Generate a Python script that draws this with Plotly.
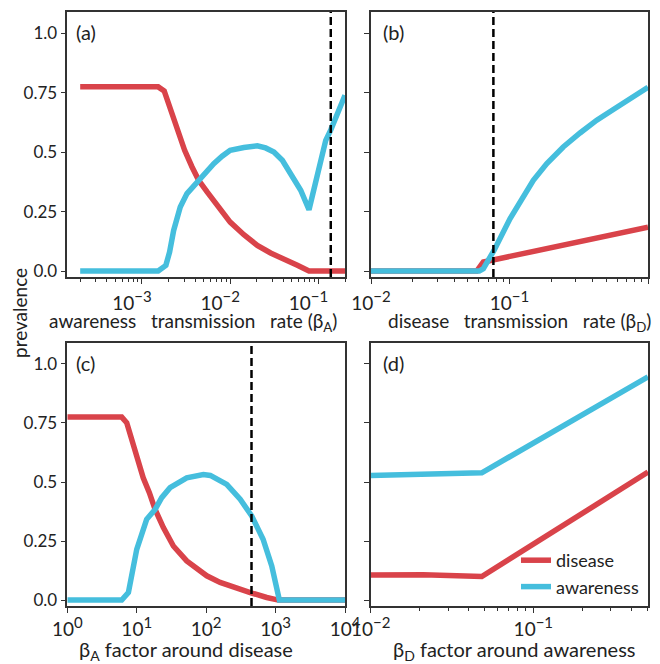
import plotly.graph_objects as go

# ---------------- data ----------------
# (a) awareness transmission rate beta_A
a_dis_x = [2e-4, 1.53e-3, 1.79e-3, 2.0e-3, 2.29e-3, 2.61e-3, 3.05e-3, 3.70e-3, 4.40e-3, 5.48e-3,
           6.52e-3, 1e-2, 1.43e-2, 2.03e-2, 2.87e-2, 4.07e-2, 5.77e-2, 7.82e-2, 0.2]
a_dis_y = [0.775, 0.775, 0.758, 0.705, 0.649, 0.579, 0.508, 0.438, 0.382, 0.333,
           0.298, 0.206, 0.153, 0.108, 0.076, 0.052, 0.024, 0.0, 0.0]
a_awa_x = [2e-4, 1.53e-3, 1.87e-3, 2.06e-3, 2.29e-3, 2.72e-3, 3.24e-3, 4.40e-3, 5.48e-3, 6.52e-3,
           8.11e-3, 1e-2, 1.43e-2, 2.03e-2, 2.52e-2, 3.13e-2, 3.90e-2, 4.84e-2, 6.30e-2, 7.82e-2,
           9.33e-2, 0.1064, 0.121, 0.138, 0.1675, 0.2]
a_awa_y = [0.0, 0.0, 0.024, 0.080, 0.171, 0.270, 0.326, 0.382, 0.424, 0.452,
           0.483, 0.508, 0.520, 0.527, 0.518, 0.501, 0.466, 0.41, 0.340, 0.258,
           0.382, 0.466, 0.55, 0.594, 0.666, 0.74]
a_crit = 0.138

# (b) disease transmission rate beta_D
b_dis_x = [0.01, 0.058, 0.0647, 0.2443, 1.0]
b_dis_y = [0.0, 0.0, 0.038, 0.109, 0.185]
b_awa_x = [0.01, 0.0605, 0.0647, 0.0703, 0.0773, 0.101, 0.1486, 0.186, 0.2443, 0.323,
           0.4266, 0.562, 0.741, 1.0]
b_awa_y = [0.0, 0.0, 0.010, 0.045, 0.087, 0.221, 0.382, 0.452, 0.522, 0.581,
           0.635, 0.680, 0.726, 0.773]
b_crit = 0.0765

# (c) beta_A factor around disease
c_dis_x = [1, 6.08, 7.18, 8.47, 10, 12.4, 15.2, 18.4, 24.2, 33.7, 52.5, 102, 159, 247, 454,
           746, 1096, 10000]
c_dis_y = [0.775, 0.775, 0.751, 0.680, 0.596, 0.518, 0.455, 0.384, 0.307, 0.229, 0.166,
           0.103, 0.075, 0.054, 0.030, 0.011, 0.0, 0.0]
c_awa_x = [1, 6.08, 7.59, 10, 13.9, 18.4, 22.9, 30.2, 52.5, 91.2, 114.8, 198, 309, 454, 661,
           881, 1135, 10000]
c_awa_y = [0.0, 0.0, 0.032, 0.215, 0.342, 0.384, 0.434, 0.476, 0.518, 0.532, 0.528, 0.49,
           0.427, 0.356, 0.258, 0.145, 0.0, 0.0]
c_crit = 450

# (d) beta_D factor around awareness
d_dis_x = [0.01, 0.021, 0.0482, 0.507]
d_dis_y = [0.106, 0.107, 0.100, 0.542]
d_awa_x = [0.01, 0.0482, 0.507]
d_awa_y = [0.528, 0.539, 0.945]

y_ticks = [0.0, 0.25, 0.5, 0.75, 1.0]
y_ticktext = ["0.0", "0.25", "0.5", "0.75", "1.0"]

RED = "#d9434a"
BLUE = "#45bedd"
FONT = "Lato"
TXT = "#222"
W, H = 660, 664
Y_RANGE = [-0.025, 1.09]

fig = go.Figure()

panels = [
    ("x", "y", a_dis_x, a_dis_y, a_awa_x, a_awa_y, a_crit),
    ("x2", "y2", b_dis_x, b_dis_y, b_awa_x, b_awa_y, b_crit),
    ("x3", "y3", c_dis_x, c_dis_y, c_awa_x, c_awa_y, c_crit),
    ("x4", "y4", d_dis_x, d_dis_y, d_awa_x, d_awa_y, None),
]
for xa, ya, dx, dy, ax_, ay_, crit in panels:
    show = xa == "x4"
    fig.add_trace(go.Scatter(x=dx, y=dy, xaxis=xa, yaxis=ya, mode="lines",
                             line=dict(color=RED, width=5.5), name="disease", showlegend=show))
    fig.add_trace(go.Scatter(x=ax_, y=ay_, xaxis=xa, yaxis=ya, mode="lines",
                             line=dict(color=BLUE, width=5.5), name="awareness", showlegend=show))
    if crit is not None:
        fig.add_trace(go.Scatter(x=[crit, crit], y=Y_RANGE, xaxis=xa, yaxis=ya, mode="lines",
                                 line=dict(color="black", width=2.5, dash="8px,4px"),
                                 showlegend=False, hoverinfo="skip"))


def px_x(a, b):
    return [a / W, b / W]


def px_y(top, bottom):
    return [1 - bottom / H, 1 - top / H]


def minor_vals(d0, d1):
    return [m * 10 ** d for d in range(d0, d1) for m in range(2, 10)]


def major(d0, d1):
    vals = [10 ** d for d in range(d0, d1 + 1)]
    text = ["10<sup><span style='font-size:15px'>%s</span></sup>" % (str(d).replace("-", "\u2212"))
            for d in range(d0, d1 + 1)]
    return vals, text


axis_common = dict(showline=True, mirror=True, linecolor="#333", linewidth=1.5,
                   ticks="outside", tickcolor="#333", tickwidth=1.2, ticklen=5,
                   showgrid=False, zeroline=False, automargin=False,
                   tickfont=dict(family=FONT, size=17, color=TXT))
xfont = dict(family=FONT, size=19, color=TXT)
minor_common = dict(ticks="outside", ticklen=3, tickcolor="#333", tickwidth=1)

xa_vals, xa_text = major(-3, -1)
xb_vals, xb_text = major(-2, 0)
xc_vals, xc_text = major(0, 4)
xd_vals, xd_text = major(-2, -1)

fig.update_layout(
    xaxis=dict(axis_common, type="log", range=[-3.845, -0.699], domain=px_x(67.3, 345),
               anchor="y", tickvals=xa_vals, ticktext=xa_text, ticklabelshift=-10,
               tickfont=xfont, ticklabelstandoff=3,
               minor=dict(minor_common, tickvals=minor_vals(-4, 0))),
    xaxis2=dict(axis_common, type="log", range=[-2, 0], domain=px_x(371, 648),
                anchor="y2", tickvals=xb_vals, ticktext=xb_text, tickfont=xfont,
                ticklabelstandoff=3,
                minor=dict(minor_common, tickvals=minor_vals(-2, 0))),
    xaxis3=dict(axis_common, type="log", range=[0, 4], domain=px_x(67.3, 345),
                anchor="y3", tickvals=xc_vals, ticktext=xc_text, tickfont=xfont),
    xaxis4=dict(axis_common, type="log", range=[-2, -0.295], domain=px_x(370.7, 648),
                anchor="y4", tickvals=xd_vals, ticktext=xd_text, tickfont=xfont,
                minor=dict(minor_common, tickvals=minor_vals(-2, 0))),
    yaxis=dict(axis_common, range=Y_RANGE, domain=px_y(12, 277), anchor="x",
               tickvals=y_ticks, ticktext=y_ticktext),
    yaxis2=dict(axis_common, range=Y_RANGE, domain=px_y(12, 277), anchor="x2",
                tickvals=y_ticks, showticklabels=False),
    yaxis3=dict(axis_common, range=Y_RANGE, domain=px_y(342.7, 606), anchor="x3",
                tickvals=y_ticks, ticktext=y_ticktext),
    yaxis4=dict(axis_common, range=Y_RANGE, domain=px_y(342.7, 606), anchor="x4",
                tickvals=y_ticks, showticklabels=False),
)

NB = "\u00a0"
titles = [
    ("awareness" + NB * 3 + "transmission" + NB * 3 + "rate (β<sub>A</sub>)", 193, 322, 19),
    ("disease" + NB * 3 + "transmission" + NB * 3 + "rate (β<sub>D</sub>)", 519, 322, 19),
    ("β<sub>A</sub> factor around disease", 186, 650, 20),
    ("β<sub>D</sub> factor around awareness", 514, 650, 20),
]
annotations = []
for txt, cx, cy, fs in titles:
    annotations.append(dict(text=txt, x=cx / W, y=1 - cy / H, xref="paper", yref="paper",
                            showarrow=False, xanchor="center", yanchor="middle",
                            font=dict(family=FONT, size=fs, color=TXT)))
for lab, lx, ly in [("(a)", 74, 32), ("(b)", 381, 32), ("(c)", 74, 363), ("(d)", 381, 363)]:
    annotations.append(dict(text=lab, x=lx / W, y=1 - ly / H, xref="paper", yref="paper",
                            showarrow=False, xanchor="left", yanchor="middle",
                            font=dict(family=FONT, size=20, color=TXT)))
annotations.append(dict(text="prevalence", x=19 / W, y=1 - 313 / H, xref="paper", yref="paper",
                        showarrow=False, textangle=-90, xanchor="center", yanchor="middle",
                        font=dict(family=FONT, size=19, color=TXT)))

fig.update_layout(
    width=W, height=H, margin=dict(l=0, r=0, t=0, b=0, autoexpand=False),
    paper_bgcolor="white", plot_bgcolor="white",
    annotations=annotations,
    legend=dict(x=516 / W, y=1 - 542 / H, xanchor="left", yanchor="top",
                bgcolor="rgba(0,0,0,0)", font=dict(family=FONT, size=18, color=TXT),
                itemwidth=30, tracegroupgap=0),
    font=dict(family=FONT),
)

fig.write_html("out.html")
